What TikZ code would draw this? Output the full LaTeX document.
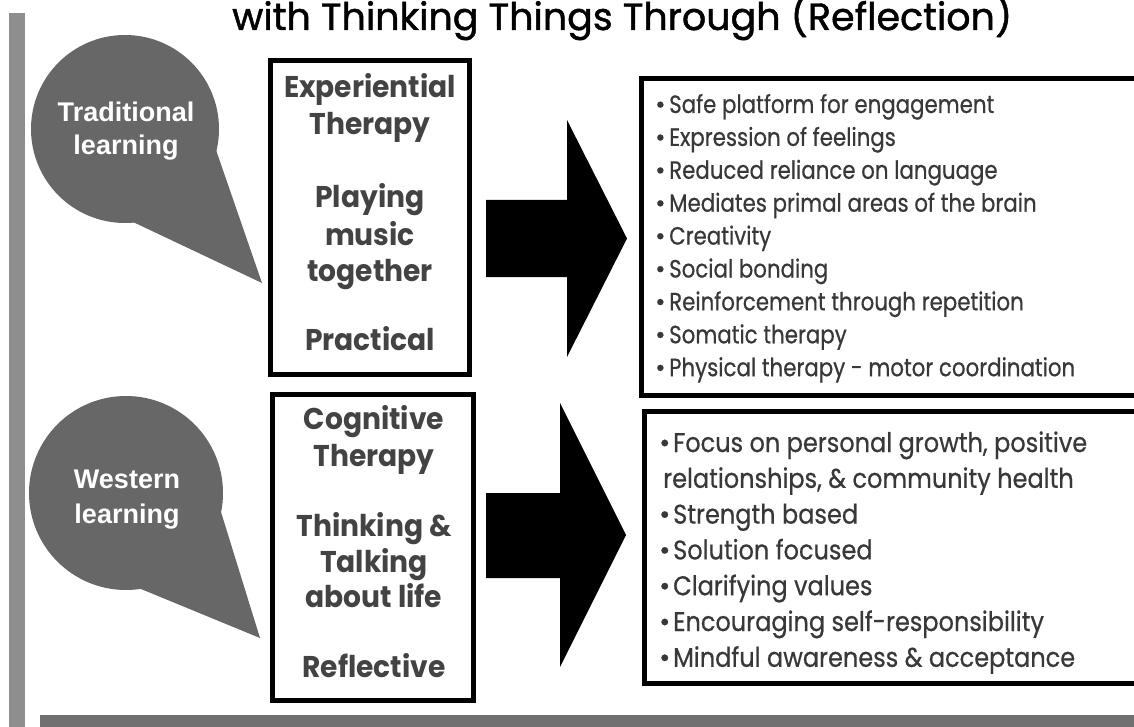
\documentclass[tikz,border=0pt]{standalone}
\usepackage{fontspec}
\usepackage{graphicx}
\setmainfont{Poppins}
\newfontfamily\titlefont{Poppins}[FakeBold=1.2]
\newfontfamily\listfont{Poppins}[FakeBold=0.6]
\newfontfamily\bubblefont{Liberation Sans}

\definecolor{bubblegray}{HTML}{676767}
\definecolor{sidebar}{HTML}{8E8E8E}
\definecolor{footbar}{HTML}{707070}
\definecolor{boxtext}{HTML}{434343}
\definecolor{listtext}{HTML}{383838}

% horizontal fit factors so the geometric face keeps the set widths
\newsavebox\measurebox
\newcommand\fitfactor[3]{%
  \sbox\measurebox{#2}%
  \pgfmathsetmacro#1{#3/\the\wd\measurebox}}
\AtBeginDocument{%
  \fitfactor\titlefac{\titlefont\fontsize{38}{46}\selectfont with Thinking Things Through (Reflection)}{780}%
  \fitfactor\boxfac{\bfseries\fontsize{30}{36}\selectfont Experiential}{172}%
  \fitfactor\topfac{\listfont\fontsize{25}{30}\selectfont Physical therapy - motor coordination}{406}%
  \fitfactor\lowfac{\listfont\fontsize{27}{32}\selectfont Focus on personal growth, positive}{414}%
}

\begin{document}
\begin{tikzpicture}[x=1pt,y=-1pt,
  bubble/.style={fill=bubblegray},
  bubbleline/.style={font=\bubblefont\bfseries\fontsize{27}{32}\selectfont,
    text=white, anchor=base, inner sep=0pt},
  frame/.style={draw=black, line width=5pt},
  boxline/.style={font=\bfseries\fontsize{30}{36}\selectfont,
    text=boxtext, anchor=base, inner sep=0pt},
  bullet/.style={anchor=base west, inner sep=0pt, text=listtext},
  bigarrow/.style={fill=black},
  titletext/.style={font=\titlefont\fontsize{38}{46}\selectfont, anchor=base west, inner sep=0pt}]

\useasboundingbox (0,0) rectangle (1134,727);
\fill[white] (0,0) rectangle (1134,727);
\begin{scope}
\clip (0,0) rectangle (1134,727);

% side and foot bars
\fill[sidebar] (9,13) rectangle (25,727);
\fill[footbar] (40,715) rectangle (1134,727);

% title
\node[titletext] (title) at (232,30) {\scalebox{\titlefac}[1]{with Thinking Things Through (Reflection)}};

% speech bubbles
\fill[bubble] (125,129) circle[radius=94];
\fill[bubble] (125,129) -- (216,150) -- (262,283) -- (133,222) -- cycle;
\node[bubbleline] (trad1) at (126,122) {Traditional};
\node[bubbleline] (trad2) at (126,155) {learning};

\fill[bubble] (126,493) circle[radius=97];
\fill[bubble] (126,493) -- (221,512) -- (260,638) -- (141,589) -- cycle;
\node[bubbleline] (west1) at (127,488) {Western};
\node[bubbleline] (west2) at (127,523) {learning};

% middle boxes
\draw[frame] (270.5,60.5) rectangle (469.5,374.5);
\foreach \txt/\yy [count=\i] in {Experiential/98, Therapy/135, Playing/208,
    music/245, together/281, Practical/350}
  \node[boxline] (exp\i) at (370,\yy) {\scalebox{\boxfac}[1]{\txt}};

\draw[frame] (272,394.5) rectangle (473,700);
\foreach \txt/\yy [count=\i] in {Cognitive/429, Therapy/466, Thinking \&/536,
    Talking/572, about life/607, Reflective/677}
  \node[boxline] (cog\i) at (374,\yy) {\scalebox{\boxfac}[1]{\txt}};

% arrows
\fill[bigarrow] (486,200) -- (567,200) -- (567,120) -- (627,238.5)
  -- (567,357) -- (567,277) -- (486,277) -- cycle;
\fill[bigarrow] (486,493) -- (560,493) -- (560,403) -- (626,535)
  -- (560,667) -- (560,578) -- (486,578) -- cycle;

% outcome boxes
\draw[frame] (641.5,79) rectangle (1145,395);
\foreach \txt [count=\i] in {Safe platform for engagement, Expression of feelings,
    Reduced reliance on language, Mediates primal areas of the brain, Creativity,
    Social bonding, Reinforcement through repetition, Somatic therapy,
    Physical therapy - motor coordination}
  \node[bullet, font=\listfont\fontsize{25}{30}\selectfont] (exo\i) at (655,113+32.9*\i-32.9)
    {\makebox[14pt][l]{\textbullet}\scalebox{\topfac}[1]{\txt}};

\draw[frame] (644.5,411) rectangle (1145,683);
\foreach \txt/\ind [count=\i] in {{Focus on personal growth, positive}/1,
    {relationships, \& community health}/0, Strength based/1, Solution focused/1,
    Clarifying values/1, Encouraging self-responsibility/1,
    Mindful awareness \& acceptance/1}
  \node[bullet, font=\listfont\fontsize{27}{32}\selectfont] (cgo\i) at (659,452+35.8*\i-35.8)
    {\ifnum\ind=1 \makebox[14pt][l]{\textbullet}\else\hspace*{4pt}\fi\scalebox{\lowfac}[1]{\txt}};
\end{scope}
\end{tikzpicture}
\end{document}
